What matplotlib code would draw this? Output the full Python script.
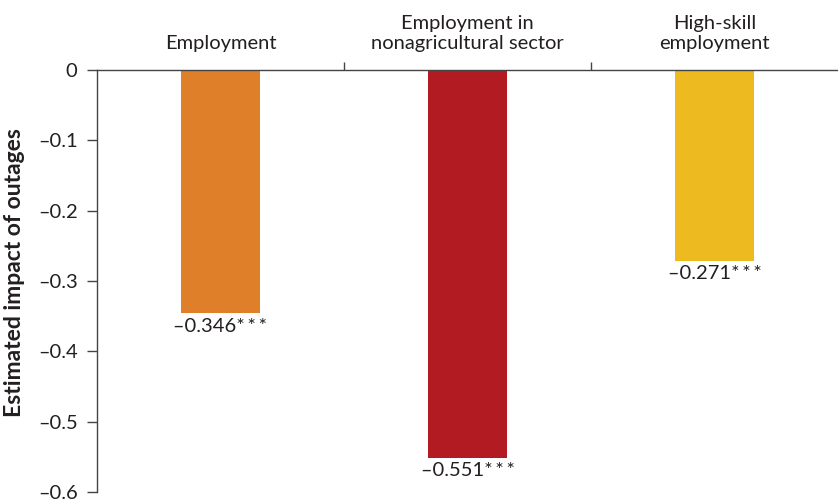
import matplotlib
matplotlib.use("Agg")
import matplotlib.pyplot as plt
from matplotlib.ticker import FixedLocator, FuncFormatter

plt.rcParams['font.family'] = ['Lato', 'DejaVu Sans']

categories = ["Employment", "Employment in\nnonagricultural sector", "High-skill\nemployment"]
values = [-0.346, -0.551, -0.271]
value_labels = ["\u20130.346*\u2009*\u2009*", "\u20130.551*\u2009*\u2009*", "\u20130.271*\u2009*\u2009*"]
colors = ["#E07F2A", "#B31B23", "#EDBB1F"]
yticks = [0, -0.1, -0.2, -0.3, -0.4, -0.5, -0.6]

text_color = "#231F20"
line_color = "#444444"

fig = plt.figure(figsize=(8.38, 5.04), dpi=100)
ax = fig.add_axes([97/838, 1-492/504, 1-97/838, (492-70)/504])

x = list(range(len(categories)))
ax.bar(x, values, width=0.316, color=colors, zorder=2)

for xi, v, lab in zip(x, values, value_labels):
    ax.annotate(lab, (xi, v), xytext=(0, -3), textcoords="offset points",
                ha="center", va="top", fontsize=14.5, color=text_color)

ax.set_xlim(-0.5, 2.5)
ax.set_ylim(-0.6, 0)

for s in ["bottom", "right"]:
    ax.spines[s].set_visible(False)
for s in ["left", "top"]:
    ax.spines[s].set_color(line_color)
    ax.spines[s].set_linewidth(1.0)

ax.xaxis.set_ticks_position("top")
ax.xaxis.set_major_locator(FixedLocator(x))
ax.set_xticklabels(categories, linespacing=1.2)
ax.xaxis.set_minor_locator(FixedLocator([0.5, 1.5]))
ax.tick_params(axis="x", which="major", length=0, pad=13, labelsize=14.5, colors=text_color)
ax.tick_params(axis="x", which="minor", length=6, width=1.0, color=line_color, direction="out")

ax.set_yticks(yticks)
ax.yaxis.set_major_formatter(FuncFormatter(lambda v, p: "0" if abs(v) < 1e-9 else ("\u2013%.1f" % abs(v))))
ax.tick_params(axis="y", length=7, width=1.0, color=line_color, labelsize=14.5, labelcolor=text_color, pad=7)

ax.set_ylabel("Estimated impact of outages", fontsize=16.5, fontweight="bold", color=text_color)
ax.yaxis.set_label_coords(-72/741, 0.52)

fig.savefig("out.png", dpi=100)
